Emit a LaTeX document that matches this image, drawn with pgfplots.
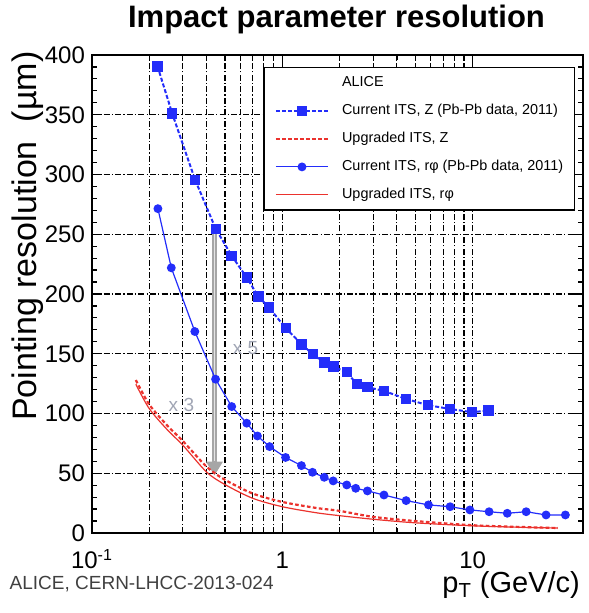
\documentclass[border=0pt]{standalone}
\usepackage{pgfplots}
\pgfplotsset{compat=1.18}
\usepackage{fontspec}
\setmainfont{Liberation Sans}
\usetikzlibrary{arrows.meta}

\definecolor{itsblue}{RGB}{35,45,250}
\definecolor{itsred}{RGB}{235,50,45}
\definecolor{notegray}{RGB}{160,165,180}

\begin{document}
\begin{tikzpicture}
\path[use as bounding box] (-46pt,-40pt) rectangle (248pt,266.5pt);
\begin{axis}[
  scale only axis,
  width=245.5pt, height=239pt,
  clip mode=individual,
  xmode=log,
  xmin=0.1, xmax=38,
  ymin=0, ymax=400,
  ytick distance=50,
  minor y tick num=4,
  xtick={0.1,1,10},
  xticklabels={10\textsuperscript{-1},1,10},
  /pgf/number format/assume math mode=true,
  ticklabel style={font=\fontsize{12}{14}\selectfont},
  xticklabel style={anchor=base, yshift=-18pt},
  axis line style={line width=1pt},
  major tick length=5pt, minor tick length=2.5pt,
  every tick/.style={black, line width=0.6pt},
  grid=major, xminorgrids=true,
  major grid style={black, line width=0.55pt, dash pattern=on 3pt off 1.1pt on 0.6pt off 1.1pt},
  minor grid style={black, line width=0.55pt, dash pattern=on 3pt off 1.1pt on 0.6pt off 1.1pt},
  ylabel={Pointing resolution\ \ (µm)},
  ylabel style={at={(-0.130,0.621)}, anchor=center, font=\fontsize{17}{20}\selectfont},
  xlabel={p\textsubscript{T} (GeV/c)},
  xlabel style={at={(1.008,-0.1255)}, anchor=base east, font=\fontsize{14.5}{17}\selectfont},
  legend cell align=left,
  legend image code/.code={\draw[mark repeat=2, mark phase=2, #1] plot coordinates {(0pt,0pt) (13pt,0pt) (26pt,0pt)};},
  legend style={at={(0.9837,0.975)}, anchor=north east, draw=black, line width=0.75pt,
    fill=white, font=\fontsize{7.2}{8.6}\selectfont,
    nodes={text height=5.2pt, text depth=1.6pt, inner sep=0pt},
    row sep=7.2pt, column sep=6.5pt, inner xsep=5.5pt, inner ysep=4.2pt},
]

% gray arrow: Z resolution of the current ITS down to the upgraded one
\draw[gray!70, line width=2.4pt, -{Triangle[length=7pt, width=8pt]}] (axis cs:0.44,254) -- (axis cs:0.44,48);
\draw[gray!20, line width=0.8pt] (axis cs:0.44,252) -- (axis cs:0.44,60);
\node[text=notegray, font=\fontsize{9.5}{11}\selectfont] at (axis cs:0.64,155) {x 5};
\node[text=notegray, font=\fontsize{9.5}{11}\selectfont] at (axis cs:0.295,107) {x 3};

\addlegendimage{empty legend}
\addlegendentry{ALICE}

% Current ITS, z direction
\addplot[itsblue, line width=1pt, dash pattern=on 2pt off 1pt, mark=square*, mark size=2.1pt, mark options={solid}]
coordinates {
(0.221,390.5) (0.264,351.0) (0.348,295.6) (0.447,254.4) (0.542,232.0)
(0.650,213.8) (0.748,197.9) (0.851,188.7) (1.042,171.4) (1.264,157.9)
(1.444,149.6) (1.663,142.6) (1.854,139.2) (2.180,134.5) (2.460,124.7)
(2.797,122.0) (3.422,118.9) (4.467,112.2) (5.833,106.9) (7.607,103.8)
(9.89,101.1) (12.09,102.4)
};
\addlegendentry{Current ITS, Z (Pb-Pb data, 2011)}

% Upgraded ITS, z direction
\addplot[itsred, line width=1.1pt, dash pattern=on 1.8pt off 1.2pt, smooth, no marks]
coordinates {
(0.17,128) (0.2,107.5) (0.25,89.5) (0.3,77) (0.4,55.5) (0.5,44.5)
(0.7,33) (1,26) (1.5,21) (2,18.5) (3,13.5) (5,10) (10,6.5) (20,4.8) (28,4.2)
};
\addlegendentry{Upgraded ITS, Z}

% Current ITS, r-phi direction
\addplot[itsblue, line width=0.6pt, mark=*, mark size=1.9pt]
coordinates {
(0.222,271.4) (0.261,221.9) (0.347,168.6) (0.446,128.7) (0.542,105.8)
(0.650,91.9) (0.740,81.2) (0.857,72.3) (1.04,63.2) (1.26,56.4)
(1.44,50.8) (1.66,46.6) (1.85,43.6) (2.18,40.2) (2.43,37.4)
(2.80,35.2) (3.42,31.8) (4.47,27.1) (5.86,23.5) (7.61,22.0)
(9.67,19.3) (12.2,17.8) (15.2,16.5) (19.1,17.8) (24.3,15.1) (30.7,15.1)
};
\addlegendentry{Current ITS, rφ (Pb-Pb data, 2011)}

% Upgraded ITS, r-phi direction
\addplot[itsred, line width=0.6pt, smooth, no marks]
coordinates {
(0.17,124.5) (0.2,104) (0.25,86) (0.3,73.5) (0.4,51) (0.5,40.5)
(0.7,29) (1,22) (1.5,17) (2,14.5) (3,11.5) (5,8.5) (10,6) (20,4.6) (28,4.2)
};
\addlegendentry{Upgraded ITS, rφ}

% title and source note
\node[anchor=base, font=\fontsize{15.5}{18}\selectfont\bfseries]
  at (rel axis cs:0.498,1.0565) {Impact parameter resolution};
\node[anchor=base west, text=black!75, font=\fontsize{9.5}{11}\selectfont]
  at (rel axis cs:-0.182,-0.119) {ALICE, CERN-LHCC-2013-024};
\end{axis}
\end{tikzpicture}
\end{document}
